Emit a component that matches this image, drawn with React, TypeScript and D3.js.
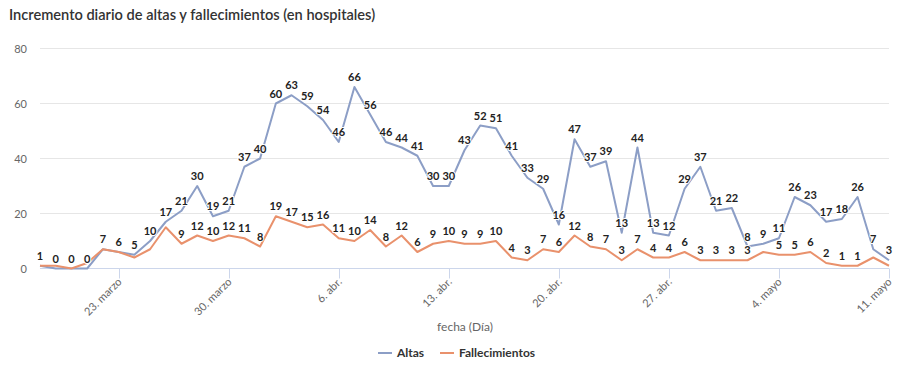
import React from "react";
import * as d3 from "d3";

const title = "Incremento diario de altas y fallecimientos (en hospitales)";
const startDate = new Date(2020, 2, 18);
const altas = [1,0,0,0,7,6,5,10,17,21,30,19,21,37,40,60,63,59,54,46,66,56,46,44,41,30,30,43,52,51,41,33,29,16,47,37,39,13,44,13,12,29,37,21,22,8,9,11,26,23,17,18,26,7,3];
const fallecimientos = [1,1,0,2,7,6,4,7,15,9,12,10,12,11,8,19,17,15,16,11,10,14,8,12,6,9,10,9,9,10,4,3,7,6,12,8,7,3,7,4,4,6,3,3,3,3,6,5,5,6,2,1,1,4,1];
const yTicks = [0, 20, 40, 60, 80];
const xTickLabels = ["23. marzo", "30. marzo", "6. abr.", "13. abr.", "20. abr.", "27. abr.", "4. mayo", "11. mayo"];
const xTickIndex = [5, 12, 19, 26, 33, 40, 47, 54];
const seriesNames = ["Altas", "Fallecimientos"];
const seriesColors = ["#8c9ec6", "#e9916c"];

const W = 900, H = 379;
const FONT = "Lato, 'Open Sans', sans-serif";

export default function App() {
  const dates = altas.map((_, i) => d3.timeDay.offset(startDate, i));
  const x = d3.scaleTime().domain([dates[0], dates[dates.length - 1]]).range([40, 889]);
  const y = d3.scaleLinear().domain([0, 80]).range([268.5, 48.5]);
  const line = d3.line<number>().x((_, i) => x(dates[i])).y((v) => y(v));
  const series = [altas, fallecimientos];

  // data labels with simple collision avoidance (first series has priority)
  type Box = { x0: number; x1: number; y0: number; y1: number };
  const placed: Box[] = [];
  const labels: { x: number; y: number; t: string; k: string }[] = [];
  series.forEach((s, si) => {
    s.forEach((v, i) => {
      const px = x(dates[i]);
      const py = y(v) - 6;
      const t = String(v);
      const w = t.length * 6.6;
      const b = { x0: px - w / 2 - 1, x1: px + w / 2 + 1, y0: py - 11, y1: py + 1 };
      const hit = placed.some((p) => b.x0 < p.x1 && b.x1 > p.x0 && b.y0 < p.y1 && b.y1 > p.y0);
      if (!hit) {
        placed.push(b);
        labels.push({ x: px, y: py, t, k: `${si}-${i}` });
      }
    });
  });

  return (
    <svg width={W} height={H} style={{ position: "absolute", left: 0, top: 0, fontFamily: FONT }}>
      <rect width={W} height={H} fill="#fff" />
      <text x={9} y={20} fontSize={14.6} fontWeight={600} fill="#333">{title}</text>
      {yTicks.map((t) => (
        <g key={t}>
          {t !== 0 && <line x1={40} x2={889} y1={y(t)} y2={y(t)} stroke="#e6e6e6" />}
          <text x={27} y={y(t) + 4} fontSize={11} fill="#666" textAnchor="end">{t}</text>
        </g>
      ))}
      <line x1={40} x2={889} y1={y(0)} y2={y(0)} stroke="#ccd6eb" />
      {xTickIndex.map((idx, k) => {
        const px = Math.round(x(dates[idx])) + 0.5;
        return (
          <g key={idx}>
            <line x1={px} x2={px} y1={y(0)} y2={y(0) + 10} stroke="#ccd6eb" />
            <text
              transform={`translate(${px + 3},${y(0) + 14}) rotate(-45)`}
              fontSize={11}
              fill="#666"
              textAnchor="end"
            >
              {xTickLabels[k]}
            </text>
          </g>
        );
      })}
      <text x={465} y={331} fontSize={12} fill="#666" textAnchor="middle">fecha (Día)</text>
      {series.map((s, si) => (
        <path key={si} d={line(s) || ""} fill="none" stroke={seriesColors[si]} strokeWidth={2} strokeLinejoin="round" />
      ))}
      {labels.map((l) => (
        <text
          key={l.k}
          x={l.x}
          y={l.y}
          fontSize={11}
          fontWeight="bold"
          fill="#222"
          textAnchor="middle"
          stroke="#fff"
          strokeWidth={2}
          strokeLinejoin="round"
          style={{ paintOrder: "stroke" }}
        >
          {l.t}
        </text>
      ))}
      {(() => {
        const items = [{ x: 378 }, { x: 440 }];
        return items.map((it, i) => (
          <g key={i}>
            <line x1={it.x} x2={it.x + 14} y1={353} y2={353} stroke={seriesColors[i]} strokeWidth={2} />
            <text x={it.x + 19} y={357} fontSize={12} fontWeight="bold" fill="#333">{seriesNames[i]}</text>
          </g>
        ));
      })()}
    </svg>
  );
}
